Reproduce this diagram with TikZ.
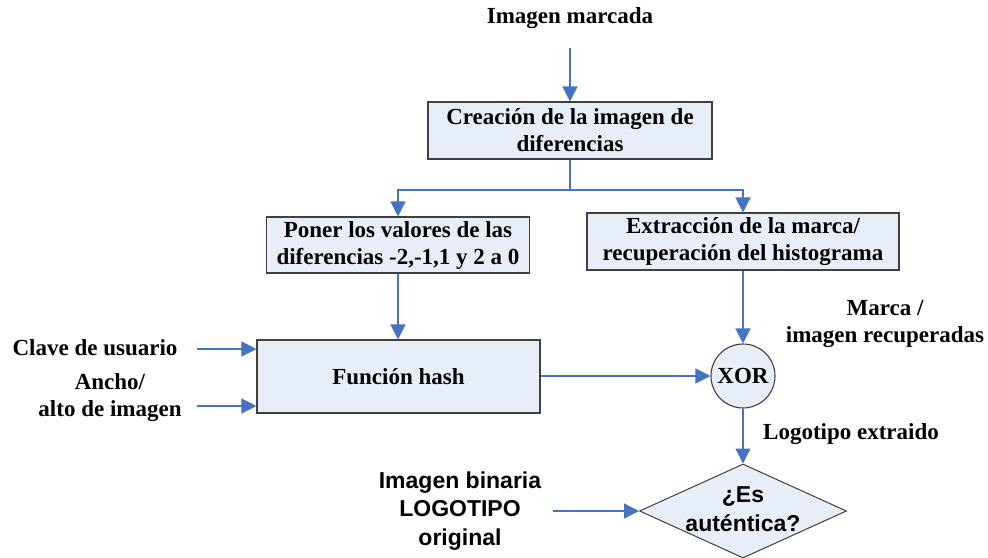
\documentclass[tikz,border=0pt]{standalone}
\usepackage{fontspec}
\setmainfont{Liberation Serif}
\newfontfamily\sansbold{Liberation Sans}
\usetikzlibrary{arrows.meta,shapes.geometric}
\definecolor{flowblue}{RGB}{68,114,196}
\definecolor{boxfill}{RGB}{232,238,248}
\definecolor{boxline}{RGB}{64,64,64}
\tikzset{
  txt/.style={font=\fontsize{23}{27}\selectfont\bfseries, align=center, inner sep=0pt},
  stxt/.style={font=\sansbold\fontsize{23}{28.5}\selectfont\bfseries, align=center, inner sep=0pt},
  procbox/.style={txt, draw=boxline, line width=1.1pt, fill=boxfill},
  flow/.style={draw=flowblue, line width=1.3pt, -{Triangle[length=15pt,width=15pt]}},
  link/.style={draw=flowblue, line width=1.3pt},
}
\begin{document}
\begin{tikzpicture}[x=1pt,y=-1pt]
\useasboundingbox[fill=white] (0,0) rectangle (988,557);

% process blocks
\node[procbox, minimum width=284pt, minimum height=57pt] (diff) at (570,130.5)
  {Creación de la imagen de\\diferencias};
\node[procbox, minimum width=263pt, minimum height=56pt] (zero) at (398,245)
  {Poner los valores de las\\diferencias -2,-1,1 y 2 a 0};
\node[procbox, minimum width=312pt, minimum height=57pt] (extr) at (743,241.5)
  {Extracción de la marca/\\recuperación del histograma};
\node[procbox, minimum width=283pt, minimum height=73pt] (hash) at (398.5,376.5)
  {Función hash};
\node[procbox, circle, minimum size=64pt] (xor) at (743,376) {XOR};
\node[diamond, draw=boxline, line width=1pt, fill=boxfill,
      minimum width=207pt, minimum height=94pt, inner sep=0pt] (auth) at (743,511) {};
\node[stxt] (authtext) at (743,509) {¿Es\\auténtica?};

% free labels
\node[txt] (input) at (570,18) {Imagen marcada};
\node[txt] (key) at (95,348) {Clave de usuario};
\node[txt] (dims) at (110,398) {Ancho/\\alto de imagen};
\node[txt] (mark) at (885,324) {Marca /\\imagen recuperadas};
\node[txt] (logo) at (851,434) {Logotipo extraido};
\node[stxt] (orig) at (460,511) {Imagen binaria\\LOGOTIPO\\original};

% connector ends
\coordinate (top) at (570,48);
\coordinate (split) at (570,190);
\coordinate (inkey) at (197,349);
\coordinate (indims) at (197,406);
\coordinate (inlogo) at (553,511);

% connectors
\draw[flow] (top) -- (diff.north);
\draw[link] (diff.south) -- (split);
\draw[flow] (split) -| (zero.north);
\draw[flow] (split) -| (extr.north);
\draw[flow] (zero.south) -- (zero.south |- hash.north);
\draw[flow] (inkey) -- (hash.west |- inkey);
\draw[flow] (indims) -- (hash.west |- indims);
\draw[flow] (hash.east |- xor.west) -- (xor.west);
\draw[flow] (extr.south) -- (xor.north);
\draw[flow] (xor.south) -- (auth.north);
\draw[flow] (inlogo) -- (auth.west);
\end{tikzpicture}
\end{document}
